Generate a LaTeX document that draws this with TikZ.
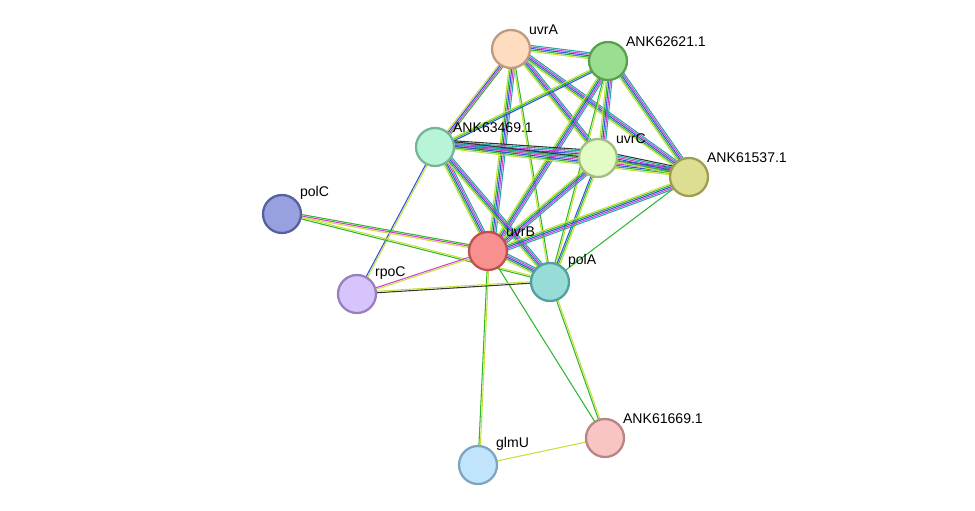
\documentclass[tikz,border=0pt]{standalone}
\usepackage{fontspec}
\setmainfont{Liberation Sans}
\usetikzlibrary{calc}
\definecolor{tm}{HTML}{C4E03A}
\definecolor{nb}{HTML}{2DB82D}
\definecolor{co}{HTML}{3050E0}
\definecolor{ex}{HTML}{D040D0}
\definecolor{db}{HTML}{20A8A8}
\definecolor{cx}{HTML}{333333}
\newcommand\lnk[3]{%
  \foreach \c [count=\i] in {#3}{%
    \pgfmathsetmacro\o{(\i-1)*0.85}%
    \draw[\c, line width=0.6pt] ($(#1)!\o pt!90:(#2)$) -- ($(#2)!\o pt!-90:(#1)$);}}
\begin{document}
\begin{tikzpicture}[
    x=0.02cm, y=-0.02cm,
    prot/.style={circle, line width=1.3pt, minimum size=0.76cm, inner sep=0},
    lbl/.style={font=\fontsize{8}{9}\selectfont, anchor=south west, inner sep=1pt}
  ]
  \useasboundingbox (0,0) rectangle (975,511);
  % nodes
  \coordinate (uvrA) at (511,49);
  \coordinate (a626) at (608,61);
  \coordinate (a634) at (435,147);
  \coordinate (uvrC) at (598,158);
  \coordinate (a615) at (689,177);
  \coordinate (polC) at (282,214);
  \coordinate (uvrB) at (488,251);
  \coordinate (polA) at (550,282);
  \coordinate (rpoC) at (357,294);
  \coordinate (a616) at (605,438);
  \coordinate (glmU) at (478,465);
  % edges
  \lnk{uvrA}{a626}{tm,nb,co,ex,db}
  \lnk{uvrA}{a634}{tm,co,ex,nb}
  \lnk{uvrA}{uvrC}{tm,nb,co,ex,db}
  \lnk{uvrA}{a615}{tm,nb,co,ex,db}
  \lnk{uvrA}{uvrB}{tm,nb,co,ex,db}
  \lnk{uvrA}{polA}{tm,nb}
  \lnk{a626}{a634}{tm,nb,co}
  \lnk{a626}{uvrC}{tm,nb,co,ex,db}
  \lnk{a626}{a615}{tm,nb,co,ex,db}
  \lnk{a626}{uvrB}{tm,nb,co,ex,db}
  \lnk{a626}{polA}{nb,tm}
  \lnk{a634}{uvrC}{tm,nb,co,ex,db,cx}
  \lnk{a634}{a615}{tm,nb,co,ex,db,cx}
  \lnk{a634}{uvrB}{tm,nb,co,ex,db}
  \lnk{a634}{polA}{tm,nb,co,ex,db}
  \lnk{a634}{rpoC}{co,tm}
  \lnk{uvrC}{a615}{tm,nb,co,ex,db,cx}
  \lnk{uvrC}{uvrB}{tm,nb,co,ex,db}
  \lnk{uvrC}{polA}{co,nb,tm}
  \lnk{a615}{uvrB}{tm,nb,co,ex,db}
  \lnk{a615}{polA}{nb}
  \lnk{polC}{uvrB}{tm,ex,nb}
  \lnk{polC}{polA}{nb,tm}
  \lnk{uvrB}{polA}{tm,nb,co,ex,db}
  \lnk{uvrB}{rpoC}{ex,tm}
  \lnk{uvrB}{glmU}{nb,tm}
  \lnk{uvrB}{a616}{nb}
  \lnk{rpoC}{polA}{cx,tm}
  \lnk{polA}{a616}{nb,tm}
  \lnk{glmU}{a616}{tm}
  % proteins
  \node[prot, fill={rgb,255:red,253;green,220;blue,192}, draw={rgb,255:red,192;green,154;blue,128}] (nuvrA) at (uvrA) {};
  \node[prot, fill={rgb,255:red,154;green,222;blue,143}, draw={rgb,255:red,90;green,158;blue,79}] (n626) at (a626) {};
  \node[prot, fill={rgb,255:red,184;green,245;blue,216}, draw={rgb,255:red,120;green,181;blue,152}] (n634) at (a634) {};
  \node[prot, fill={rgb,255:red,226;green,252;blue,196}, draw={rgb,255:red,160;green,190;blue,130}] (nuvrC) at (uvrC) {};
  \node[prot, fill={rgb,255:red,222;green,222;blue,146}, draw={rgb,255:red,158;green,158;blue,82}] (n615) at (a615) {};
  \node[prot, fill={rgb,255:red,152;green,160;blue,224}, draw={rgb,255:red,85;green,96;blue,160}] (npolC) at (polC) {};
  \node[prot, fill={rgb,255:red,248;green,144;blue,144}, draw={rgb,255:red,192;green,80;blue,80}] (nuvrB) at (uvrB) {};
  \node[prot, fill={rgb,255:red,152;green,220;blue,216}, draw={rgb,255:red,80;green,160;blue,160}] (npolA) at (polA) {};
  \node[prot, fill={rgb,255:red,216;green,196;blue,252}, draw={rgb,255:red,152;green,128;blue,188}] (nrpoC) at (rpoC) {};
  \node[prot, fill={rgb,255:red,248;green,196;blue,196}, draw={rgb,255:red,184;green,132;blue,132}] (n616) at (a616) {};
  \node[prot, fill={rgb,255:red,192;green,228;blue,252}, draw={rgb,255:red,128;green,164;blue,188}] (nglmU) at (glmU) {};
  % labels
  \node[lbl] at ($(uvrA)+(16,-12)$) {uvrA};
  \node[lbl] at ($(a626)+(16,-12)$) {ANK62621.1};
  \node[lbl] at ($(a634)+(16,-12)$) {ANK63469.1};
  \node[lbl] at ($(uvrC)+(16,-12)$) {uvrC};
  \node[lbl] at ($(a615)+(16,-12)$) {ANK61537.1};
  \node[lbl] at ($(polC)+(16,-12)$) {polC};
  \node[lbl] at ($(uvrB)+(16,-12)$) {uvrB};
  \node[lbl] at ($(polA)+(16,-12)$) {polA};
  \node[lbl] at ($(rpoC)+(16,-12)$) {rpoC};
  \node[lbl] at ($(a616)+(16,-12)$) {ANK61669.1};
  \node[lbl] at ($(glmU)+(16,-12)$) {glmU};
\end{tikzpicture}
\end{document}
